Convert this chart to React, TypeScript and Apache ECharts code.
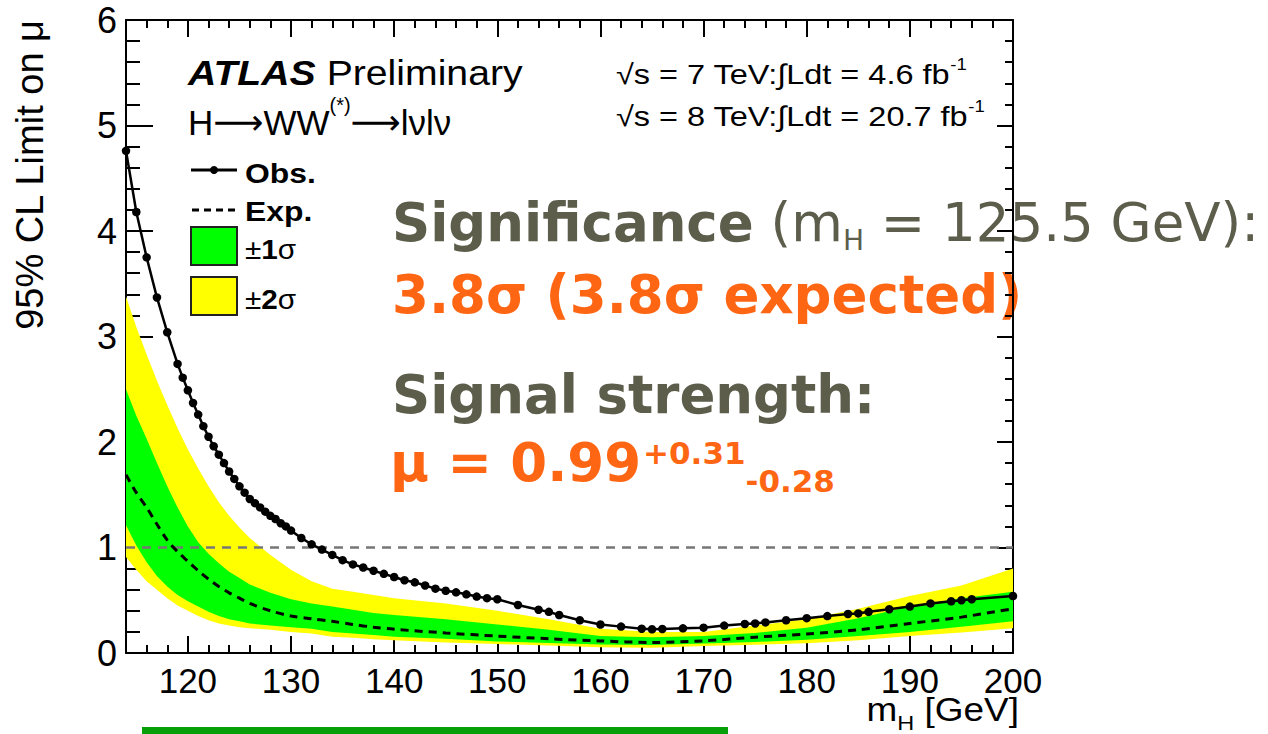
import React, { useEffect, useRef } from 'react';
import * as echarts from 'echarts';

// ---------- data ----------
const massGrid = [114, 115, 116, 117, 118, 119, 120, 121, 122, 123, 124, 125, 126, 128, 130, 132, 134, 136, 138, 140, 145, 150, 155, 160, 165, 170, 175, 180, 185, 190, 195, 200];
const expLimit = [1.69, 1.52, 1.38, 1.22, 1.07, 0.96, 0.87, 0.78, 0.70, 0.63, 0.57, 0.52, 0.47, 0.40, 0.35, 0.325, 0.30, 0.27, 0.245, 0.225, 0.19, 0.16, 0.135, 0.114, 0.10, 0.115, 0.15, 0.18, 0.22, 0.28, 0.34, 0.42];
const band1Hi = [2.50, 2.25, 2.03, 1.80, 1.58, 1.38, 1.20, 1.05, 0.94, 0.85, 0.77, 0.71, 0.65, 0.57, 0.51, 0.47, 0.44, 0.41, 0.38, 0.36, 0.32, 0.27, 0.22, 0.16, 0.15, 0.16, 0.19, 0.24, 0.33, 0.44, 0.52, 0.58];
const band1Lo = [1.21, 1.02, 0.86, 0.73, 0.63, 0.55, 0.49, 0.44, 0.39, 0.35, 0.32, 0.30, 0.28, 0.26, 0.245, 0.23, 0.20, 0.185, 0.17, 0.155, 0.135, 0.11, 0.095, 0.08, 0.075, 0.09, 0.105, 0.125, 0.16, 0.20, 0.25, 0.30];
const band2Hi = [3.38, 3.09, 2.83, 2.58, 2.35, 2.13, 1.93, 1.75, 1.58, 1.43, 1.30, 1.19, 1.09, 0.93, 0.79, 0.68, 0.61, 0.58, 0.55, 0.52, 0.47, 0.40, 0.32, 0.23, 0.20, 0.20, 0.26, 0.32, 0.42, 0.54, 0.64, 0.80];
const band2Lo = [0.91, 0.79, 0.68, 0.60, 0.52, 0.45, 0.40, 0.35, 0.31, 0.28, 0.26, 0.245, 0.235, 0.22, 0.20, 0.185, 0.155, 0.145, 0.13, 0.12, 0.10, 0.085, 0.07, 0.054, 0.05, 0.066, 0.078, 0.092, 0.12, 0.16, 0.195, 0.234];

const obsMass = [114, 115, 116, 117, 118, 119, 119.5, 120, 120.5, 121, 121.5, 122, 122.5, 123, 123.5, 124, 124.5, 125, 125.5, 126, 126.5, 127, 127.5, 128, 128.5, 129, 129.5, 130, 131, 132, 133, 134, 135, 136, 137, 138, 139, 140, 141, 142, 143, 144, 145, 146, 147, 148, 149, 150, 152, 154, 155, 156, 158, 160, 162, 164, 165, 166, 168, 170, 172, 174, 175, 176, 178, 180, 182, 184, 185, 186, 188, 190, 192, 194, 195, 196, 200];
const obsLimit = [4.76, 4.18, 3.75, 3.37, 3.04, 2.74, 2.61, 2.49, 2.37, 2.26, 2.15, 2.05, 1.96, 1.88, 1.80, 1.72, 1.65, 1.58, 1.52, 1.46, 1.42, 1.38, 1.34, 1.30, 1.27, 1.23, 1.20, 1.16, 1.09, 1.03, 0.98, 0.93, 0.88, 0.84, 0.81, 0.78, 0.75, 0.72, 0.69, 0.67, 0.64, 0.61, 0.59, 0.575, 0.556, 0.535, 0.52, 0.51, 0.455, 0.41, 0.39, 0.36, 0.31, 0.27, 0.25, 0.23, 0.225, 0.228, 0.234, 0.24, 0.26, 0.275, 0.28, 0.29, 0.31, 0.33, 0.35, 0.37, 0.375, 0.39, 0.415, 0.44, 0.47, 0.49, 0.50, 0.51, 0.54];

const refMass = [114, 200];
const refLimit = [1, 1];

const xMajorTicks = [120, 130, 140, 150, 160, 170, 180, 190, 200];
const xMin = 114;
const xMax = 200;
const yMin = 0;
const yMax = 6;

// ---------- styling helpers ----------
const SANS = '"Liberation Sans", Arial, Helvetica, "DejaVu Sans", sans-serif';
const DJ = '"DejaVu Sans", sans-serif';
const GRAY = '#5c5d4b';
const ORANGE = '#ff6613';

let ctx: CanvasRenderingContext2D | null = null;
function measure(text: string, font: string): number {
  if (!ctx) ctx = document.createElement('canvas').getContext('2d');
  if (!ctx) return text.length * 10;
  ctx.font = font;
  return ctx.measureText(text).width;
}

type Part = { t: string; size: number; weight?: string; italic?: boolean; dy?: number; fill?: string; family?: string };

function seq(parts: Part[], x: number, y: number, sx: number, defFill: string, defFamily: string) {
  let cx = 0;
  const children: any[] = [];
  for (const p of parts) {
    const fam = p.family || defFamily;
    const weight = p.weight || 'normal';
    const fstyle = p.italic ? 'italic' : 'normal';
    const font = `${fstyle} ${weight} ${p.size}px ${fam}`;
    children.push({
      type: 'text',
      x: cx,
      y: p.dy || 0,
      style: {
        text: p.t,
        fill: p.fill || defFill,
        fontSize: p.size,
        fontWeight: weight,
        fontStyle: fstyle,
        fontFamily: fam,
        align: 'left',
        verticalAlign: 'middle',
        textAlign: 'left',
        textVerticalAlign: 'middle',
      },
    });
    cx += measure(p.t, font);
  }
  return { type: 'group', x, y, scaleX: sx, children, width: cx };
}

const tickLine = { color: '#000', width: 2 };

function bandSeries(name: string, lo: number[], hi: number[], color: string, z: number) {
  return {
    name,
    type: 'custom',
    coordinateSystem: 'cartesian2d',
    xAxisIndex: 0,
    yAxisIndex: 0,
    silent: true,
    z,
    clip: true,
    data: massGrid.map((m, i) => [m, lo[i], hi[i]]),
    encode: { x: 0, y: [1, 2] },
    renderItem: (params: any, api: any) => {
      if (params.dataIndex !== 0) return null;
      const upper = massGrid.map((m, i) => api.coord([m, hi[i]]));
      const lower = massGrid.map((m, i) => api.coord([m, lo[i]])).reverse();
      return {
        type: 'polygon',
        shape: { points: upper.concat(lower) },
        style: { fill: color, stroke: 'none' },
      };
    },
  };
}

export default function App() {
  const ref = useRef<HTMLDivElement>(null);

  useEffect(() => {
    if (!ref.current) return;
    const chart = echarts.init(ref.current, null, { renderer: 'svg' });

    const pairs = (xs: number[], ys: number[]) => xs.map((x, i) => [x, ys[i]]);

    const SX = 1.12;
    const xTitle = seq(
      [
        { t: 'm', size: 33 },
        { t: 'H', size: 21, dy: 14 },
        { t: ' [GeV]', size: 33 },
      ],
      0, 709, SX, '#000', SANS
    );
    xTitle.x = 1019 - xTitle.width * SX;

    const muLine = seq([{ t: 'μ = 0.99', size: 53, weight: 'bold' }], 390, 462, 1, ORANGE, DJ);
    const muW = muLine.width;
    const supW = measure('+0.31', `normal bold 31px ${DJ}`);
    muLine.children.push({
      type: 'text', x: muW + 2, y: -9,
      style: { text: '+0.31', fill: ORANGE, fontSize: 31, fontWeight: 'bold', fontFamily: DJ, align: 'left', verticalAlign: 'middle', textAlign: 'left', textVerticalAlign: 'middle' },
    });
    muLine.children.push({
      type: 'text', x: muW + 2 + supW, y: 19,
      style: { text: '-0.28', fill: ORANGE, fontSize: 31, fontWeight: 'bold', fontFamily: DJ, align: 'left', verticalAlign: 'middle', textAlign: 'left', textVerticalAlign: 'middle' },
    });

    const graphicEls: any[] = [
      // y axis title
      {
        type: 'text',
        x: 30,
        y: 20,
        rotation: Math.PI / 2,
        style: {
          text: '95% CL Limit on μ',
          fill: '#000',
          fontSize: 38,
          fontFamily: SANS,
          align: 'right',
          verticalAlign: 'middle',
          textAlign: 'right',
          textVerticalAlign: 'middle',
        },
      },
      xTitle,
      // ATLAS Preliminary
      seq([
        { t: 'ATLAS', size: 35, weight: 'bold', italic: true },
        { t: ' Preliminary', size: 35 },
      ], 188, 73, SX, '#000', SANS),
      // H -> WW
      seq([
        { t: 'H', size: 35 },
        { t: '⟶', size: 35, family: DJ },
        { t: 'WW', size: 35 },
        { t: '(*)', size: 20, dy: -17 },
        { t: '⟶', size: 35, family: DJ },
        { t: 'lνlν', size: 35 },
      ], 188, 122, 1.0, '#000', SANS),
      // lumi lines
      seq([
        { t: '√s = 7 TeV:∫Ldt = 4.6 fb', size: 28 },
        { t: '-1', size: 16, dy: -10 },
      ], 616, 74, 1.16, '#000', SANS),
      seq([
        { t: '√s = 8 TeV:∫Ldt = 20.7 fb', size: 28 },
        { t: '-1', size: 16, dy: -10 },
      ], 616, 116, 1.16, '#000', SANS),
      // legend
      { type: 'line', shape: { x1: 191, y1: 170, x2: 237, y2: 170 }, style: { stroke: '#000', lineWidth: 3 } },
      { type: 'circle', shape: { cx: 214, cy: 170, r: 4 }, style: { fill: '#000' } },
      seq([{ t: 'Obs.', size: 27, weight: 'bold' }], 245, 173, 1.18, '#000', SANS),
      { type: 'line', shape: { x1: 192, y1: 210, x2: 237, y2: 210 }, style: { stroke: '#000', lineWidth: 3, lineDash: [7, 5] } },
      seq([{ t: 'Exp.', size: 27, weight: 'bold' }], 245, 211, 1.18, '#000', SANS),
      { type: 'rect', shape: { x: 191, y: 227, width: 46, height: 38 }, style: { fill: '#00ff00', stroke: '#222', lineWidth: 2 } },
      seq([
        { t: '±', size: 27 },
        { t: '1', size: 27, weight: 'bold' },
        { t: 'σ', size: 27 },
      ], 245, 249, 1.1, '#000', SANS),
      { type: 'rect', shape: { x: 191, y: 277, width: 46, height: 38 }, style: { fill: '#ffff00', stroke: '#222', lineWidth: 2 } },
      seq([
        { t: '±', size: 27 },
        { t: '2', size: 27, weight: 'bold' },
        { t: 'σ', size: 27 },
      ], 245, 299, 1.1, '#000', SANS),
      // big annotations
      seq([
        { t: 'Significance', size: 53, weight: 'bold' },
        { t: ' (m', size: 53 },
        { t: 'H', size: 28, dy: 18 },
        { t: ' = 125.5 GeV):', size: 53 },
      ], 392, 222, 1, GRAY, DJ),
      seq([{ t: '3.8σ (3.8σ expected)', size: 53, weight: 'bold' }], 392, 294, 1, ORANGE, DJ),
      seq([{ t: 'Signal strength:', size: 53, weight: 'bold' }], 392, 394, 1, GRAY, DJ),
      muLine,
      // green bar at the bottom
      { type: 'rect', shape: { x: 142, y: 727, width: 586, height: 12 }, style: { fill: '#08a008' } },
    ];

    const minorX = (pos: 'bottom' | 'top') => ({
      type: 'value', position: pos, min: xMin, max: xMax, interval: 2,
      axisLine: { show: true, onZero: false, lineStyle: tickLine },
      axisTick: { show: true, inside: true, length: 8, lineStyle: tickLine },
      axisLabel: pos === 'bottom'
        ? { show: true, formatter: (v: number) => (v % 10 === 0 ? String(v) : ''), color: '#000', fontSize: 35, fontFamily: SANS, margin: 10 }
        : { show: false },
      splitLine: { show: false },
    });
    const majorX = (pos: 'bottom' | 'top') => ({
      type: 'value', position: pos, min: xMin, max: xMax,
      axisLine: { show: false, onZero: false },
      axisTick: { show: true, inside: true, length: 17, customValues: xMajorTicks, lineStyle: tickLine },
      axisLabel: { show: false },
      splitLine: { show: false },
    });
    const yAx = (pos: 'left' | 'right', major: number, minor: number, labels: boolean) => ({
      type: 'value', position: pos, min: yMin, max: yMax, interval: 1,
      axisLine: { show: true, onZero: false, lineStyle: tickLine },
      axisTick: { show: true, inside: true, length: major, lineStyle: tickLine },
      minorTick: { show: true, splitNumber: 5, length: minor, lineStyle: tickLine },
      axisLabel: labels ? { show: true, color: '#000', fontSize: 36, fontFamily: SANS, margin: 9 } : { show: false },
      splitLine: { show: false },
      minorSplitLine: { show: false },
    });

    const option: any = {
      animation: false,
      backgroundColor: '#ffffff',
      grid: { left: 126, top: 20, right: 255, bottom: 81, containLabel: false },
      xAxis: [minorX('bottom'), majorX('bottom'), minorX('top'), majorX('top')],
      yAxis: [yAx('left', 27, 14, true), yAx('right', 16, 8, false)],
      series: [
        bandSeries('±2σ', band2Lo, band2Hi, '#ffff00', 1),
        bandSeries('±1σ', band1Lo, band1Hi, '#00ff00', 2),
        {
          name: 'ref', type: 'line', data: pairs(refMass, refLimit), symbol: 'none',
          lineStyle: { color: '#777777', width: 2.5, type: [9, 7] }, z: 3,
        },
        {
          name: 'Exp.', type: 'line', data: pairs(massGrid, expLimit), symbol: 'none', smooth: 0.3,
          lineStyle: { color: '#000', width: 3, type: [8, 6] }, z: 4,
        },
        {
          name: 'Obs.', type: 'line', data: pairs(obsMass, obsLimit), symbol: 'circle', symbolSize: 8.5,
          itemStyle: { color: '#000' }, lineStyle: { color: '#000', width: 2.5 }, z: 5,
        },
      ],
      graphic: { elements: graphicEls },
    };

    chart.setOption(option);
    return () => chart.dispose();
  }, []);

  return (
    <div
      ref={ref}
      style={{ position: 'fixed', left: 0, top: 0, width: 1268, height: 734, background: '#fff' }}
    />
  );
}
